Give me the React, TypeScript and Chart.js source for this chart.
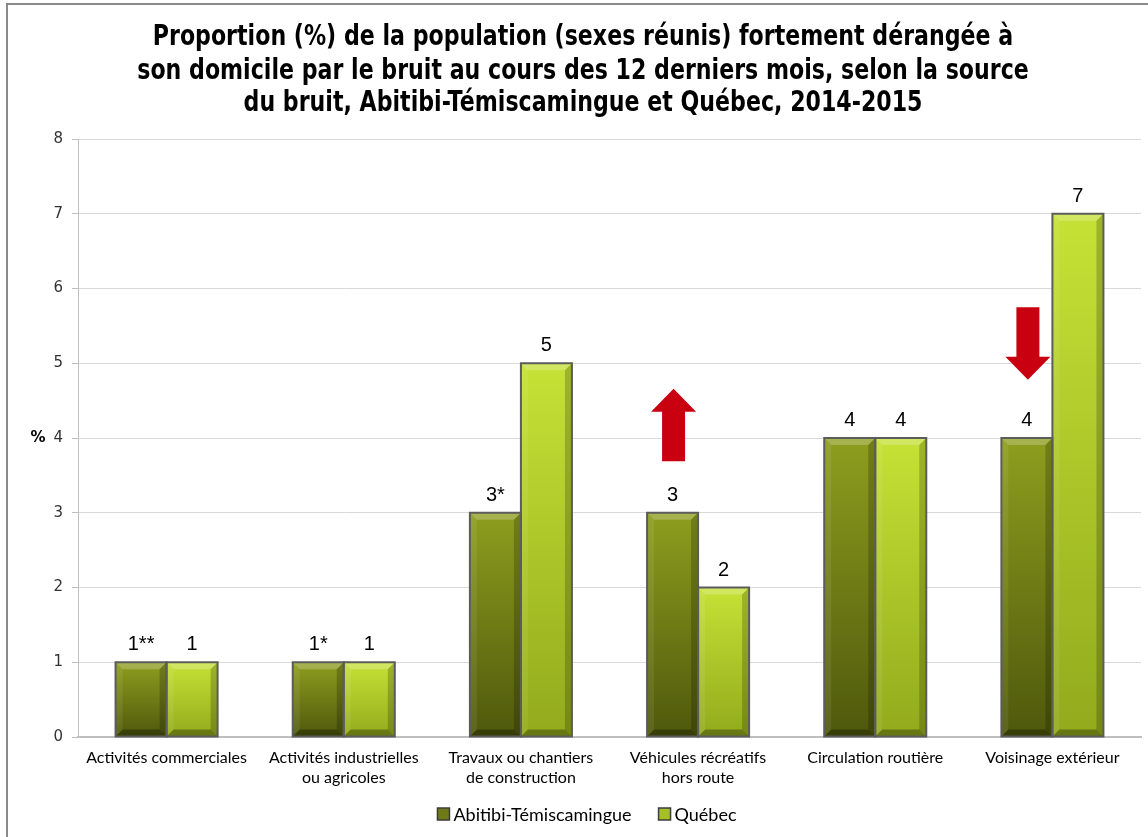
import React, { useEffect, useRef } from "react";
import { Chart, registerables } from "chart.js";

Chart.register(...registerables);

const titleLines = [
  "Proportion (%) de la population (sexes réunis) fortement dérangée à",
  "son domicile par le bruit au cours des 12 derniers mois, selon la source",
  "du bruit, Abitibi-Témiscamingue et Québec, 2014-2015",
];

const categories: string[][] = [
  ["Activités commerciales"],
  ["Activités industrielles", "ou agricoles"],
  ["Travaux ou chantiers", "de construction"],
  ["Véhicules récréatifs", "hors route"],
  ["Circulation routière"],
  ["Voisinage extérieur"],
];

const seriesNames = ["Abitibi-Témiscamingue", "Québec"];
const abitibiValues = [1, 1, 3, 3, 4, 4];
const quebecValues = [1, 1, 5, 2, 4, 7];
const abitibiLabels = ["1**", "1*", "3*", "3", "4", "4"];
const quebecLabels = ["1", "1", "5", "2", "4", "7"];

// significance arrows on Abitibi bars: category index, direction, from value, to value (tip)
const arrowCategory = [3, 5];
const arrowDirection = ["up", "down"];
const arrowFrom = [3.69, 5.75];
const arrowTo = [4.66, 4.78];

const yTicks = [0, 1, 2, 3, 4, 5, 6, 7, 8];

const darkTop = "#8e9e1e";
const darkBottom = "#4e580c";
const lightTop = "#c6e236";
const lightBottom = "#92aa1c";
const legendColors = ["#6e7a16", "#a4c022"];

function gradientFor(ctx: any, top: string, bottom: string, fallback: string) {
  const chart = ctx.chart;
  const ys = chart.scales?.y;
  if (!ys || ctx.parsed == null) return fallback;
  const yTop = ys.getPixelForValue(ctx.parsed.y);
  const yBot = ys.getPixelForValue(0);
  if (!isFinite(yTop) || !isFinite(yBot) || yTop === yBot) return fallback;
  const g = chart.ctx.createLinearGradient(0, yTop, 0, yBot);
  g.addColorStop(0, top);
  g.addColorStop(1, bottom);
  return g;
}

const framePlugin = {
  id: "frame",
  beforeDraw(chart: any) {
    const c = chart.ctx;
    c.save();
    c.fillStyle = "#ffffff";
    c.fillRect(0, 0, chart.width, chart.height);
    c.strokeStyle = "#8a8a8a";
    c.lineWidth = 2;
    c.beginPath();
    c.moveTo(7, chart.height);
    c.lineTo(7, 4);
    c.lineTo(chart.width, 4);
    c.stroke();
    // title (condensed by horizontal scaling)
    c.fillStyle = "#000";
    c.font = "bold 28px 'DejaVu Sans', sans-serif";
    c.textAlign = "center";
    c.textBaseline = "middle";
    const ys = [38, 72, 104];
    const sx = 0.79;
    titleLines.forEach((t, i) => {
      c.save();
      c.translate(583, ys[i]);
      c.scale(sx, 1);
      c.fillText(t, 0, 0);
      c.restore();
    });
    // % axis label
    const a = chart.chartArea;
    c.font = "bold 15px 'DejaVu Sans', sans-serif";
    c.fillText("%", 38, (a.top + a.bottom) / 2);
    // legend
    c.font = "18px Lato, 'Open Sans', sans-serif";
    c.textAlign = "left";
    const box = 12;
    const gapBoxText = 4;
    const gapItems = 27;
    const widths = seriesNames.map((s) => box + gapBoxText + c.measureText(s).width);
    const total = widths[0] + gapItems + widths[1];
    let x = 587 - total / 2;
    const ly = 814;
    seriesNames.forEach((s, i) => {
      c.fillStyle = legendColors[i];
      c.fillRect(x, ly - box / 2, box, box);
      c.strokeStyle = "#3c3c3c";
      c.lineWidth = 1.5;
      c.strokeRect(x, ly - box / 2, box, box);
      c.fillStyle = "#000";
      c.fillText(s, x + box + gapBoxText, ly + 1);
      x += widths[i] + gapItems;
    });
    c.restore();
  },
};

const barDecorPlugin = {
  id: "barDecor",
  afterDatasetsDraw(chart: any) {
    const c = chart.ctx;
    c.save();
    const labelSets = [abitibiLabels, quebecLabels];
    chart.data.datasets.forEach((_ds: any, di: number) => {
      const meta = chart.getDatasetMeta(di);
      meta.data.forEach((bar: any, i: number) => {
        const w = bar.width;
        const l = bar.x - w / 2;
        const r = bar.x + w / 2;
        const t = bar.y;
        const b = bar.base;
        const bv = Math.min(7, (b - t) / 3);
        const poly = (pts: number[][], fill: string) => {
          c.beginPath();
          c.moveTo(pts[0][0], pts[0][1]);
          for (let k = 1; k < pts.length; k++) c.lineTo(pts[k][0], pts[k][1]);
          c.closePath();
          c.fillStyle = fill;
          c.fill();
        };
        poly([[l, t], [r, t], [r - bv, t + bv], [l + bv, t + bv]], "rgba(255,255,255,0.22)");
        poly([[l, t], [l + bv, t + bv], [l + bv, b - bv], [l, b]], "rgba(255,255,255,0.08)");
        poly([[r, t], [r - bv, t + bv], [r - bv, b - bv], [r, b]], "rgba(0,0,0,0.2)");
        poly([[l, b], [l + bv, b - bv], [r - bv, b - bv], [r, b]], "rgba(0,0,0,0.3)");
        c.strokeStyle = "#5c5c5c";
        c.lineWidth = 2;
        c.strokeRect(l, t, w, b - t);
        // value label
        c.fillStyle = "#000";
        c.font = "20px 'Liberation Sans', Arial, sans-serif";
        c.textAlign = "center";
        c.textBaseline = "alphabetic";
        c.fillText(labelSets[di][i], bar.x, t - 12);
      });
    });
    // arrows
    const ys = chart.scales.y;
    const meta0 = chart.getDatasetMeta(0);
    arrowCategory.forEach((ci, k) => {
      const bar: any = meta0.data[ci];
      const cx = bar.x + 1;
      const yFrom = ys.getPixelForValue(arrowFrom[k]);
      const yTip = ys.getPixelForValue(arrowTo[k]);
      const headW = 22.5;
      const shaftW = 11.5;
      const headH = 23;
      const dir = arrowDirection[k] === "up" ? -1 : 1;
      const headBase = yTip - dir * headH;
      c.beginPath();
      c.moveTo(cx - shaftW, yFrom);
      c.lineTo(cx + shaftW, yFrom);
      c.lineTo(cx + shaftW, headBase);
      c.lineTo(cx + headW, headBase);
      c.lineTo(cx, yTip);
      c.lineTo(cx - headW, headBase);
      c.lineTo(cx - shaftW, headBase);
      c.closePath();
      c.fillStyle = "#c8000f";
      c.fill();
    });
    c.restore();
  },
};

export default function App() {
  const ref = useRef<HTMLCanvasElement>(null);
  useEffect(() => {
    if (!ref.current) return;
    const chart = new Chart(ref.current, {
      type: "bar",
      data: {
        labels: categories,
        datasets: [
          {
            label: seriesNames[0],
            data: abitibiValues,
            backgroundColor: (ctx: any) => gradientFor(ctx, darkTop, darkBottom, "#6e7a16"),
            borderWidth: 0,
            barPercentage: 1,
            categoryPercentage: 0.576,
          },
          {
            label: seriesNames[1],
            data: quebecValues,
            backgroundColor: (ctx: any) => gradientFor(ctx, lightTop, lightBottom, "#aac826"),
            borderWidth: 0,
            barPercentage: 1,
            categoryPercentage: 0.576,
          },
        ],
      },
      options: {
        responsive: false,
        animation: false,
        layout: { padding: { top: 139, left: 0, right: 7, bottom: 40 } },
        plugins: {
          title: { display: false },
          tooltip: { enabled: false },
          legend: { display: false },
        },
        scales: {
          x: {
            grid: { display: false },
            border: { color: "#bfbfbf", width: 2 },
            ticks: {
              color: "#000",
              font: { family: "Lato, 'Open Sans', sans-serif", size: 16, lineHeight: 1.25 },
              maxRotation: 0,
              autoSkip: false,
              padding: 3,
            },
            afterFit: (s: any) => {
              s.height = 60;
            },
          },
          y: {
            min: 0,
            max: 8,
            afterBuildTicks: (s: any) => {
              s.ticks = yTicks.map((v) => ({ value: v }));
            },
            grid: { color: "#d9d9d9", tickLength: 6, tickColor: "#bfbfbf" },
            border: { color: "#bfbfbf", width: 1 },
            ticks: {
              color: "#333",
              font: { family: "'DejaVu Sans', Verdana, sans-serif", size: 15 },
              padding: 9,
            },
            afterFit: (s: any) => {
              s.width = 78;
            },
          },
        },
      },
      plugins: [framePlugin, barDecorPlugin],
    });
    return () => chart.destroy();
  }, []);
  return (
    <div style={{ position: "absolute", left: 0, top: 0, width: 1148, height: 837 }}>
      <canvas ref={ref} width={1148} height={837} style={{ display: "block" }} />
    </div>
  );
}
